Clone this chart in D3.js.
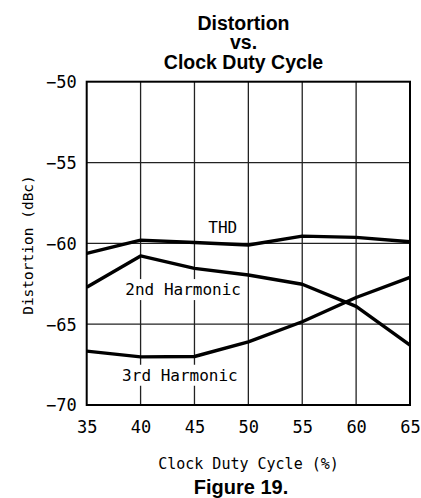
<!DOCTYPE html>
<html>
<head>
<meta charset="utf-8">
<script src="https://cdn.jsdelivr.net/npm/d3@7"></script>
<style>
  html, body { margin: 0; padding: 0; background: #fff; }
  svg { display: block; }
</style>
</head>
<body>
<svg id="chart" width="421" height="498"></svg>
<script>
// ---- data ----
const dutyCycle = [35, 40, 45, 50, 55, 60, 65];
const thd = [-60.62, -59.8, -59.95, -60.1, -59.55, -59.63, -59.9];
const harmonic2 = [-62.72, -60.78, -61.55, -61.96, -62.53, -63.9, -66.3];
const harmonic3 = [-66.67, -67.02, -67.0, -66.1, -64.85, -63.35, -62.1];
const xTicks = [35, 40, 45, 50, 55, 60, 65];
const yTicks = [-50, -55, -60, -65, -70];
const titleLines = ["Distortion", "vs.", "Clock Duty Cycle"];
const xLabel = "Clock Duty Cycle (%)";
const yLabel = "Distortion (dBc)";
const figLabel = "Figure 19.";
const seriesLabels = [
  { text: "THD", x: 47.63, y: -59.36 },
  { text: "2nd Harmonic", x: 43.95, y: -63.2 },
  { text: "3rd Harmonic", x: 43.65, y: -68.5 }
];

// ---- layout ----
const svg = d3.select("#chart");
const pL = 86.7, pR = 410, pT = 81.7, pB = 405;
const x = d3.scaleLinear().domain([35, 65]).range([pL, pR]);
const y = d3.scaleLinear().domain([-70, -50]).range([pB, pT]);
const mono = "'DejaVu Sans Mono', monospace";
const bold = "'Liberation Sans', Arial, sans-serif";

// grid
const grid = svg.append("g").attr("stroke", "#222").attr("stroke-width", 1.3);
grid.selectAll("line.v").data(xTicks.slice(1, -1)).join("line").attr("class", "v")
  .attr("x1", d => x(d)).attr("x2", d => x(d)).attr("y1", pT).attr("y2", pB);
grid.selectAll("line.h").data(yTicks.slice(1, -1)).join("line").attr("class", "h")
  .attr("y1", d => y(d)).attr("y2", d => y(d)).attr("x1", pL).attr("x2", pR);

// series labels with white background
const lab = svg.append("g");
seriesLabels.forEach(s => {
  const t = lab.append("text")
    .attr("x", x(s.x)).attr("y", y(s.y))
    .attr("text-anchor", "middle")
    .attr("font-family", mono).attr("font-size", 16)
    .attr("fill", "#000").text(s.text);
  const bb = t.node().getBBox();
  lab.insert("rect", () => t.node())
    .attr("x", bb.x - 3).attr("y", bb.y - 1)
    .attr("width", bb.width + 6).attr("height", bb.height + 2)
    .attr("fill", "#fff");
});

// frame
svg.append("rect").attr("x", pL).attr("y", pT)
  .attr("width", pR - pL).attr("height", pB - pT)
  .attr("fill", "none").attr("stroke", "#000").attr("stroke-width", 2);

// lines
const line = d3.line().x((d, i) => x(dutyCycle[i])).y(d => y(d));
[thd, harmonic2, harmonic3].forEach(s => {
  svg.append("path").datum(s).attr("d", line)
    .attr("fill", "none").attr("stroke", "#000")
    .attr("stroke-width", 3.4).attr("stroke-linejoin", "round");
});

// axes ticks (labels only)
const xAxis = d3.axisBottom(x).tickValues(xTicks).tickSize(0).tickPadding(0).tickFormat(d3.format("d"));
const gx = svg.append("g").attr("transform", `translate(0,${pB})`).call(xAxis);
gx.select(".domain").remove();
gx.selectAll("text").attr("font-family", mono).attr("font-size", 17)
  .attr("fill", "#000").attr("dy", null).attr("y", 28);

const yAxis = d3.axisLeft(y).tickValues(yTicks).tickSize(0).tickPadding(0)
  .tickFormat(d => "\u2212" + Math.abs(d));
const gy = svg.append("g").attr("transform", `translate(${pL},0)`).call(yAxis);
gy.select(".domain").remove();
gy.selectAll("text").attr("font-family", mono).attr("font-size", 17)
  .attr("fill", "#000").attr("x", -10).attr("dy", "0.35em");

// title
const ty = [30, 48.5, 69];
svg.append("g").selectAll("text").data(titleLines).join("text")
  .attr("x", 243.5).attr("y", (d, i) => ty[i])
  .attr("text-anchor", "middle").attr("font-family", bold)
  .attr("font-weight", "bold").attr("font-size", 19.5).attr("fill", "#000")
  .text(d => d);

// axis labels
svg.append("text").attr("x", 248.5).attr("y", 469).attr("text-anchor", "middle")
  .attr("font-family", mono).attr("font-size", 15).attr("fill", "#000").text(xLabel);
svg.append("text").attr("transform", "translate(33,245) rotate(-90)")
  .attr("text-anchor", "middle").attr("font-family", mono).attr("font-size", 14.5)
  .attr("fill", "#000").text(yLabel);

svg.append("text").attr("x", 241).attr("y", 493.5).attr("text-anchor", "middle")
  .attr("font-family", bold).attr("font-weight", "bold").attr("font-size", 20)
  .attr("fill", "#000").text(figLabel);
</script>
</body>
</html>
